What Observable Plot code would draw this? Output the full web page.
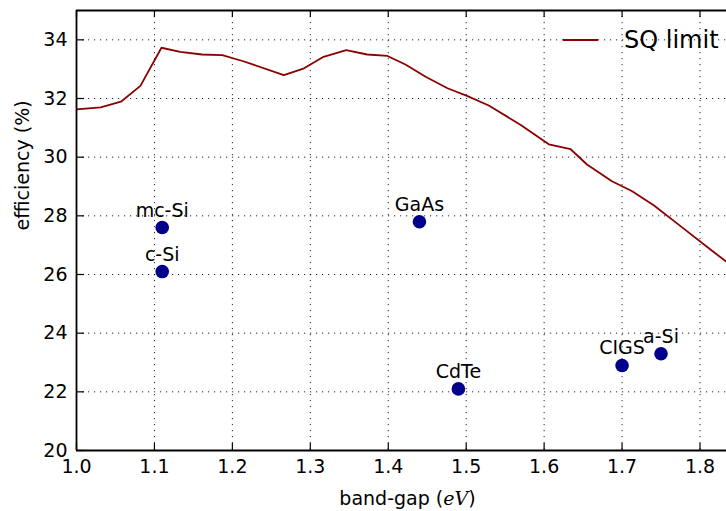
<!DOCTYPE html>
<html><head><meta charset="utf-8">
<script src="https://cdn.jsdelivr.net/npm/d3@7"></script>
<script src="https://cdn.jsdelivr.net/npm/@observablehq/plot@0.6"></script>
<style>
body{margin:0;background:#fff;}
#wrap{position:relative;width:726px;height:511px;font-family:"DejaVu Sans",sans-serif;overflow:hidden;}
#legend{position:absolute;left:563px;top:25px;height:30px;display:flex;align-items:center;font-size:24px;color:#000;white-space:nowrap;}
#legend .sw{display:inline-block;width:35px;height:0;border-top:2px solid #8b0000;margin-right:26px;}
</style></head><body><div id="wrap"></div>
<script>
// Shockley–Queisser limit curve
const sqBandGap = [1.000,1.031,1.057,1.082,1.109,1.133,1.161,1.187,1.214,1.266,1.292,1.317,1.346,1.373,1.399,1.422,1.448,1.476,1.501,1.529,1.570,1.606,1.634,1.655,1.687,1.713,1.741,1.775,1.813,1.834];
const sqEfficiency = [31.63,31.70,31.89,32.43,33.73,33.59,33.50,33.48,33.27,32.80,33.03,33.42,33.65,33.50,33.45,33.16,32.74,32.35,32.09,31.76,31.10,30.44,30.27,29.75,29.18,28.84,28.35,27.65,26.86,26.43];
// Record cells
const materials = ["mc-Si","c-Si","GaAs","CdTe","CIGS","a-Si"];
const bandGap = [1.11,1.11,1.44,1.49,1.70,1.75];
const efficiency = [27.6,26.1,27.8,22.1,22.9,23.3];
// Ticks
const xTicks = [1.0,1.1,1.2,1.3,1.4,1.5,1.6,1.7,1.8];
const yTicks = [20,22,24,26,28,30,32,34];
const xDomain = [1.0, 1.834];
const yDomain = [20, 35];
const xLabel = "band-gap (eV)";
const yLabel = "efficiency (%)";
const legendLabel = "SQ limit";

const sq = sqBandGap.map((x,i)=>({bandGap:x, efficiency:sqEfficiency[i]}));
const pts = materials.map((m,i)=>({material:m, bandGap:bandGap[i], efficiency:efficiency[i]}));

const W = 726, H = 511, mL = 76, mR = 0, mT = 10, mB = 61;
const plotW = W - mL - mR, plotH = H - mT - mB;
const grid = {stroke:"black", strokeOpacity:0.85, strokeWidth:1, strokeDasharray:"1.2,4.8"};

const chart = Plot.plot({
  width: W, height: H,
  marginLeft: mL, marginRight: mR, marginTop: mT, marginBottom: mB,
  style: {fontFamily: "DejaVu Sans", fontSize: "19px", background: "white", color: "black"},
  x: {domain: xDomain, axis: null},
  y: {domain: yDomain, axis: null},
  marks: [
    Plot.ruleX(xTicks, {x: d=>d, ...grid}),
    Plot.ruleY(yTicks, {y: d=>d, ...grid}),
    Plot.line(sq, {x:"bandGap", y:"efficiency", stroke:"#8b0000", strokeWidth:1.8, clip:true}),
    Plot.dot(pts, {x:"bandGap", y:"efficiency", r:6.8, fill:"#00008b", stroke:"none"}),
    Plot.text(pts, {x:"bandGap", y:"efficiency", text:"material", lineAnchor:"bottom", dy:-11, fontSize:19, fill:"black"}),
    // inward ticks
    Plot.ruleX(xTicks, {x: d=>d, insetTop: plotH - 7, stroke:"black", strokeWidth:1.2}),
    Plot.ruleX(xTicks, {x: d=>d, insetBottom: plotH - 7, stroke:"black", strokeWidth:1.2}),
    Plot.ruleY(yTicks, {y: d=>d, insetRight: plotW - 8, stroke:"black", strokeWidth:1.2}),
    // frame (top, left, bottom)
    Plot.ruleY([yDomain[1]], {stroke:"black", strokeWidth:1.8}),
    Plot.ruleY([yDomain[0]], {stroke:"black", strokeWidth:1.8}),
    Plot.ruleX([xDomain[0]], {stroke:"black", strokeWidth:1.8}),
    // axes
    Plot.axisX(xTicks, {tickSize:0, tickPadding:9, tickFormat: d3.format(".1f"), fontSize:19, label:null}),
    Plot.axisY(yTicks, {tickSize:0, tickPadding:9, tickFormat: d3.format("d"), fontSize:19, label:null}),
    Plot.text([yLabel], {frameAnchor:"left", rotate:-90, dx:-48, lineAnchor:"bottom", fontSize:19, fill:"black"}),
    Plot.text([xLabel], {frameAnchor:"bottom", dx:6, dy:54, lineAnchor:"bottom", fontSize:19, fill:"black"})
  ]
});
document.getElementById("wrap").appendChild(chart);

// italic math "eV" in the x label
d3.select(chart).selectAll("text").each(function(){
  const t = d3.select(this);
  if (this.textContent === xLabel) {
    t.text(null);
    t.append("tspan").text("band-gap (");
    t.append("tspan").attr("font-family","DejaVu Serif").attr("font-style","italic").text("eV");
    t.append("tspan").text(")");
  }
});

// legend
const lg = document.createElement("div");
lg.id = "legend";
lg.innerHTML = `<span class="sw"></span><span>${legendLabel}</span>`;
document.getElementById("wrap").appendChild(lg);
</script>
</body></html>
